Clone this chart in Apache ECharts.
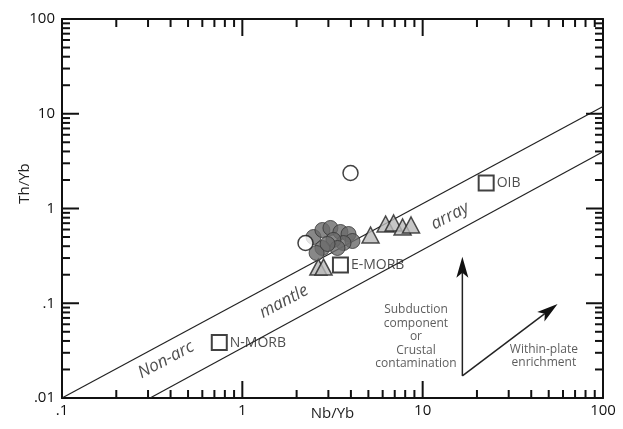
<!DOCTYPE html>
<html><head><meta charset="utf-8">
<script src="https://cdn.jsdelivr.net/npm/echarts@6/dist/echarts.min.js"></script>
<style>html,body{margin:0;padding:0;background:#fff}#c{width:623px;height:429px}</style>
</head><body><div id="c"></div>
<script>
// ---- data ----
const darkCircles = [[2.48,0.50],[2.78,0.593],[3.08,0.623],[3.50,0.565],[3.88,0.538],[4.08,0.454],[3.64,0.432],[3.20,0.466],[2.78,0.383],[3.37,0.383],[2.58,0.339],[2.97,0.422]];
const openCircles = [[2.24,0.432],[3.98,2.37]];
const triangles = [[2.64,0.241],[2.82,0.241],[5.14,0.525],[6.23,0.686],[6.90,0.703],[7.74,0.638],[8.62,0.670]];
const refNames = ['N-MORB','E-MORB','OIB'];
const refNb = [0.745,3.5,22.5];
const refTh = [0.0385,0.253,1.86];
const upperLine = [[0.1,0.01],[100,11.9]];
const lowerLine = [[0.308,0.01],[100,3.98]];
const arrows = [[16.6,0.0171,16.6,0.31],[16.6,0.0171,56,0.098]];
const arrayLabels = [['Non-arc',0.377,0.0252],['mantle',1.70,0.104],['array',14.2,0.833]];
const noteLabels = [['Subduction\ncomponent\nor\nCrustal\ncontamination',9.18,0.0444],['Within-plate\nenrichment',47,0.0277]];
const xTickLabels = {0.1:'.1',1:'1',10:'10',100:'100'};
const yTickLabels = {0.01:'.01',0.1:'.1',1:'1',10:'10',100:'100'};
const xMajorTicks = [1,10];
const yMajorTicks = [0.1,1,10];
const xMinorTicks = [0.2,0.3,0.4,0.5,0.6,0.7,0.8,0.9,2,3,4,5,6,7,8,9,20,30,40,50,60,70,80,90];
const yMinorTicks = [0.02,0.03,0.04,0.05,0.06,0.07,0.08,0.09,0.2,0.3,0.4,0.5,0.6,0.7,0.8,0.9,2,3,4,5,6,7,8,9,20,30,40,50,60,70,80,90];

// ---- chart ----
const FONT = 'Open Sans';
const chart = echarts.init(document.getElementById('c'), null, {renderer:'canvas'});
const fmtKey = (m) => (v) => { for (const k in m) { if (Math.abs(Math.log10(v) - Math.log10(+k)) < 1e-6) return m[k]; } return ''; };
const mkLine = () => ({show:true, onZero:false, lineStyle:{color:'#111', width:2}});
const noTick = () => ({show:false});

// tick items: [x, y, side, length]
const tickData = [];
xMinorTicks.forEach(v => { tickData.push([v,1,0,8]); tickData.push([v,1,1,8]); });
yMinorTicks.forEach(v => { tickData.push([1,v,2,8]); tickData.push([1,v,3,8]); });
xMajorTicks.forEach(v => { tickData.push([v,1,0,17]); tickData.push([v,1,1,17]); });
yMajorTicks.forEach(v => { tickData.push([1,v,2,17]); tickData.push([1,v,3,17]); });

const textSeries = (items, style) => ({
  type:'scatter', symbolSize:1, silent:true, z:5, itemStyle:{color:'rgba(0,0,0,0)', borderWidth:0},
  data: items.map(d => ({name:d[0], value:[d[1], d[2]]})),
  label: Object.assign({show:true, position:'inside', formatter:p=>p.name, fontFamily:FONT, color:'#222'}, style)
});
const lineSeries = (pts) => ({type:'line', data:pts, showSymbol:false, symbol:'none', silent:true, z:2,
  lineStyle:{color:'#222', width:1.2}});

chart.setOption({
  animation:false,
  grid:{left:62, right:20, top:19, bottom:31, outerBoundsMode:'none'},
  xAxis:[
    {type:'log', logBase:10, min:0.1, max:100, position:'bottom',
     name:'Nb/Yb', nameLocation:'middle', nameGap:8, nameMoveOverlap:false,
     nameTextStyle:{fontFamily:FONT, fontSize:15, color:'#222'},
     axisLine:mkLine(), axisTick:noTick(), splitLine:{show:false},
     axisLabel:{formatter:fmtKey(xTickLabels), fontFamily:FONT, fontSize:15, color:'#111', margin:5}},
    {type:'log', logBase:10, min:0.1, max:100, position:'top',
     axisLine:mkLine(), axisTick:noTick(), splitLine:{show:false}, axisLabel:{show:false}}
  ],
  yAxis:[
    {type:'log', logBase:10, min:0.01, max:100, position:'left',
     name:'Th/Yb', nameLocation:'middle', nameGap:30, nameRotate:90, nameMoveOverlap:false,
     nameTextStyle:{fontFamily:FONT, fontSize:15, color:'#222', padding:[0,0,0,50]},
     axisLine:mkLine(), axisTick:noTick(), splitLine:{show:false},
     axisLabel:{formatter:fmtKey(yTickLabels), fontFamily:FONT, fontSize:15, color:'#111', margin:7}},
    {type:'log', logBase:10, min:0.01, max:100, position:'right',
     axisLine:mkLine(), axisTick:noTick(), splitLine:{show:false}, axisLabel:{show:false}}
  ],
  series:[
    { // axis ticks (major and minor), placed through the axis scales
      type:'custom', z:3, silent:true, encode:{x:0, y:1},
      data:tickData,
      renderItem:(params, api) => {
        const cs = params.coordSys;
        const side = api.value(2), L = api.value(3);
        const p = api.coord([api.value(0), api.value(1)]);
        let s;
        if (side === 0) s = [p[0], cs.y+cs.height, p[0], cs.y+cs.height-L];
        else if (side === 1) s = [p[0], cs.y, p[0], cs.y+L];
        else if (side === 2) s = [cs.x, p[1], cs.x+L, p[1]];
        else s = [cs.x+cs.width, p[1], cs.x+cs.width-L, p[1]];
        return {type:'line', shape:{x1:s[0],y1:s[1],x2:s[2],y2:s[3]}, style:{stroke:'#111', lineWidth:2}};
      }
    },
    lineSeries(upperLine),
    lineSeries(lowerLine),
    { // arrows
      type:'custom', z:3, silent:true, encode:{x:[0,2], y:[1,3]},
      data:arrows,
      renderItem:(params, api) => {
        const a = api.coord([api.value(0), api.value(1)]);
        const b = api.coord([api.value(2), api.value(3)]);
        const ang = Math.atan2(b[1]-a[1], b[0]-a[0]);
        const ux = Math.cos(ang), uy = Math.sin(ang), nx = -uy, ny = ux;
        const HL = 21, HW = 6, notch = 5;
        const base = [b[0]-ux*HL, b[1]-uy*HL];
        const mid = [b[0]-ux*(HL-notch), b[1]-uy*(HL-notch)];
        return {type:'group', children:[
          {type:'line', shape:{x1:a[0],y1:a[1],x2:mid[0],y2:mid[1]}, style:{stroke:'#222', lineWidth:1.5}},
          {type:'polygon', shape:{points:[b,[base[0]+nx*HW, base[1]+ny*HW], mid, [base[0]-nx*HW, base[1]-ny*HW]]}, style:{fill:'#111'}}
        ]};
      }
    },
    textSeries(arrayLabels, {fontSize:17, fontStyle:'italic', rotate:28}),
    textSeries(noteLabels, {fontSize:12, lineHeight:13.5, align:'center', color:'#333'}),
    {type:'scatter', symbol:'rect', symbolSize:15, z:4,
     data: refNames.map((n,i) => ({name:n, value:[refNb[i], refTh[i]]})),
     itemStyle:{color:'#fff', borderColor:'#111', borderWidth:2},
     label:{show:true, position:'right', distance:2, formatter:p=>p.name, fontFamily:FONT, fontSize:14, color:'#222'}},
    {type:'scatter', symbol:'triangle', symbolSize:[17,16], z:4, data:triangles,
     itemStyle:{color:'#b9b9b9', borderColor:'#222', borderWidth:1.5}},
    {type:'scatter', symbol:'circle', symbolSize:15, z:4, data:darkCircles,
     itemStyle:{color:'#6a6a6a', borderColor:'#333', borderWidth:1}},
    {type:'scatter', symbol:'circle', symbolSize:15, z:4, data:openCircles,
     itemStyle:{color:'#fff', borderColor:'#111', borderWidth:1.5}}
  ]
});
</script></body></html>
